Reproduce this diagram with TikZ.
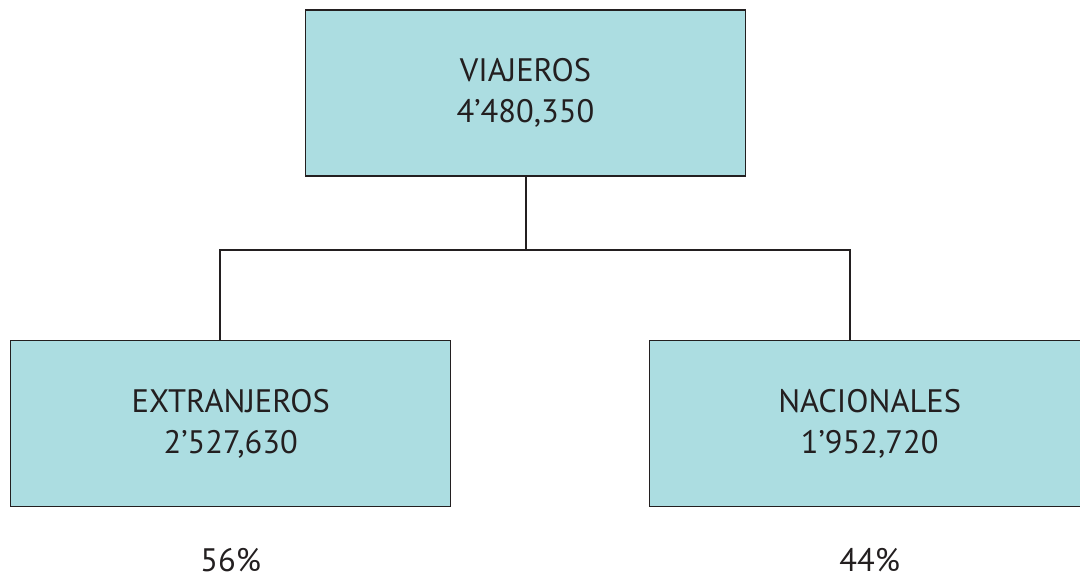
\documentclass[tikz,border=0pt]{standalone}
\usepackage{fontspec}
\setmainfont{PT Sans}
\definecolor{boxfill}{RGB}{172,221,225}
\definecolor{ink}{RGB}{35,31,32}
\begin{document}
\begin{tikzpicture}[x=1pt,y=1pt,
  box/.style={draw=ink,line width=1.5pt,fill=boxfill,minimum width=440pt,minimum height=166pt,
    inner sep=0pt,align=center,text=ink,font=\fontsize{32.5}{41}\selectfont},
  conn/.style={draw=ink,line width=2pt},
  pct/.style={anchor=base,text=ink,font=\fontsize{32.5}{36}\selectfont,inner sep=0pt,text depth=0pt}]
\useasboundingbox (0,0) rectangle (1080,-578);
\begin{scope}
\clip (0,0) rectangle (1080,-578);
\node[box] (top) at (525.5,-93.2) {VIAJEROS\\4’480,350};
\node[box] (left) at (230.7,-423.7) {EXTRANJEROS\\2’527,630};
\node[box] (right) at (869.7,-423.7) {NACIONALES\\1’952,720};
\coordinate (jl) at (220,-250);
\coordinate (jr) at (850,-250);
\draw[conn] (top.south) -- (top.south |- jl);
\draw[conn,line cap=rect] (jl) -- (jr);
\draw[conn] (jl) -- (jl |- left.north);
\draw[conn] (jr) -- (jr |- right.north);
\node[pct] (p1) at (230.7,-571) {56\%};
\node[pct] (p2) at (869.7,-571) {44\%};
\end{scope}
\end{tikzpicture}
\end{document}
